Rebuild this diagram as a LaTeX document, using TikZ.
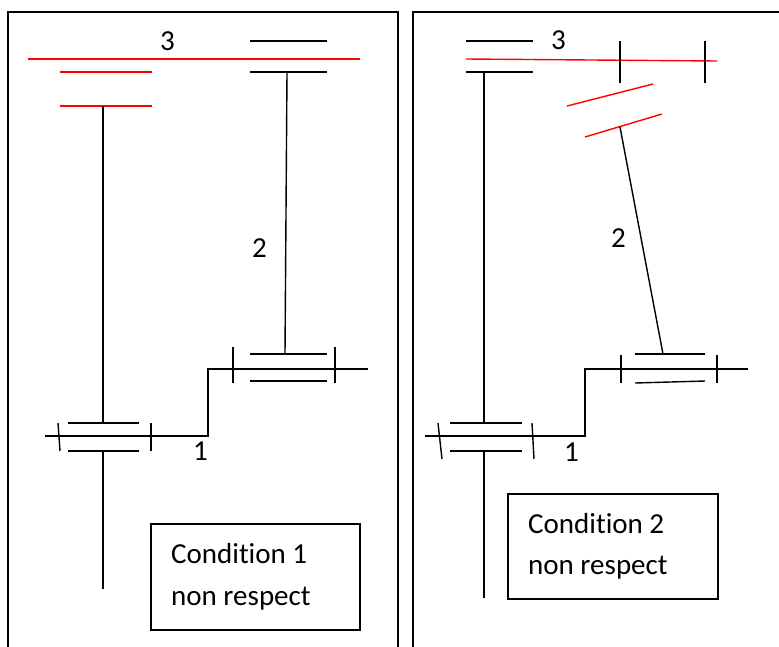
\documentclass[tikz,border=0pt]{standalone}
\usepackage{fontspec}
\setmainfont[Ligatures=NoCommon]{Carlito}
\begin{document}
\begin{tikzpicture}[x=1pt,y=-1pt,
  part/.style={line width=1.4pt,black},
  redpart/.style={line width=1.4pt,red},
  frame/.style={line width=1.5pt,black},
  lbl/.style={font=\fontsize{29}{34}\selectfont,inner sep=0pt,anchor=base west},
  condbox/.style={line width=1.3pt,black}]
\useasboundingbox (0,0) rectangle (779,646);
\fill[white] (0,0) rectangle (779,646);
% frames
\draw[frame] (8,12) rectangle (398,670);
\draw[frame] (413,12) rectangle (800,670);

% ================= LEFT PANEL =================
% shaft 3 and its wheels
\draw[redpart] (28,59) -- (360,59);
\draw[redpart] (60,72) -- (152,72);
\draw[redpart] (60,106) -- (152,106);
\draw[part] (250,41) -- (327,41);
\draw[part] (250,72) -- (327,72);
% links
\draw[part] (103,106) -- (103,423);
\draw[part] (287,72) -- (285,354);
% lower gear on shaft 1
\draw[part] (68,423) -- (139,423);
\draw[part] (68,451) -- (139,451);
\draw[part] (103,451) -- (103,589);
\draw[part] (45,436) -- (208,436) -- (208,369) -- (368,369);
\draw[part] (58,423) -- (60,451);
\draw[part] (151,423) -- (151,451);
% upper gear
\draw[part] (250,354) -- (327,354);
\draw[part] (250,381) -- (327,381);
\draw[part] (233,347) -- (233,383);
\draw[part] (335,347) -- (335,383);
% labels
\node[lbl] (L3) at (160,50) {3};
\node[lbl] (L2) at (252,257) {2};
\node[lbl] (L1) at (193,460) {1};
% condition box
\draw[condbox] (151,524) rectangle (360,630);
\node[lbl] (C1a) at (171,563) {Condition 1};
\node[lbl] (C1b) at (171,605) {non respect};

% ================= RIGHT PANEL =================
\draw[part] (466,41) -- (533,41);
\draw[part] (466,72) -- (533,72);
\draw[redpart] (466,59) -- (717,61);
\draw[part] (620,41) -- (620,83);
\draw[part] (705,41) -- (705,83);
\draw[redpart] (567,106) -- (653,84);
\draw[redpart] (585,137) -- (662,114);
\draw[part] (620,127) -- (663,354);
\draw[part] (484,72) -- (484,423);
% lower gear
\draw[part] (450,423) -- (522,423);
\draw[part] (450,451) -- (522,451);
\draw[part] (484,451) -- (484,598);
\draw[part] (425,436) -- (585,436) -- (585,369) -- (748,369);
\draw[part] (438,423) -- (442,459);
\draw[part] (532,423) -- (534,459);
% upper gear
\draw[part] (635,354) -- (705,354);
\draw[part] (635,383) -- (705,381);
\draw[part] (621,355) -- (621,383);
\draw[part] (717,355) -- (717,383);
% labels
\node[lbl] (R3) at (551,49) {3};
\node[lbl] (R2) at (611,247) {2};
\node[lbl] (R1) at (564,461) {1};
% condition box
\draw[condbox] (508,494) rectangle (718,599);
\node[lbl] (C2a) at (528,533) {Condition 2};
\node[lbl] (C2b) at (528,574) {non respect};
\end{tikzpicture}
\end{document}
